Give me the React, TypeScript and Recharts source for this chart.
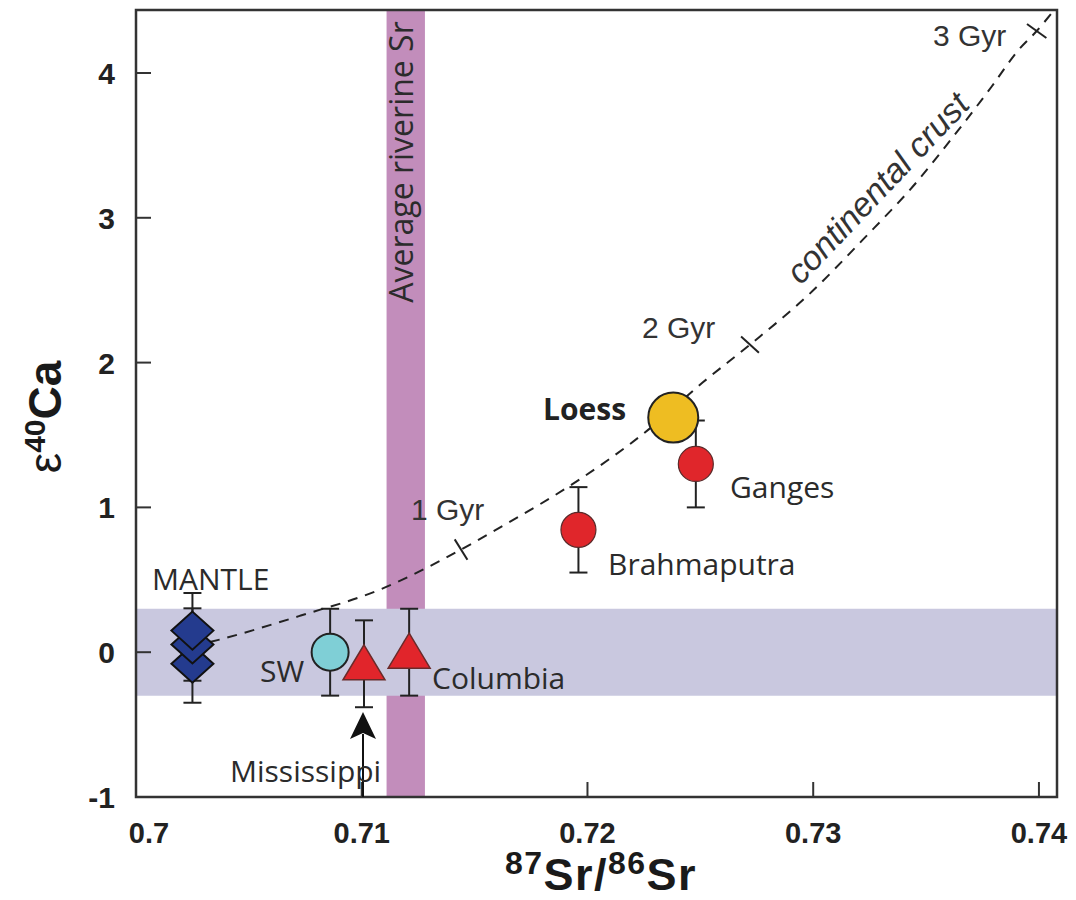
import React from 'react';
import { ComposedChart, Scatter, Line, XAxis, YAxis, ReferenceArea, ErrorBar } from 'recharts';

const X_TICKS = [0.7, 0.71, 0.72, 0.73, 0.74];
const Y_TICKS = [-1, 0, 1, 2, 3, 4];

// mantle samples, listed bottom to top so the upper diamond sits on top
const mantle = [
  { x: 0.7025, y: -0.079, err: 0.27 },
  { x: 0.7025, y: 0.053, err: 0.25 },
  { x: 0.7025, y: 0.149, err: 0.26 },
];
const seawater = [{ x: 0.7086, y: 0.0, err: 0.3 }];
const mississippi = [{ x: 0.7101, y: -0.08, err: 0.3 }];
const columbia = [{ x: 0.7121, y: 0.0, err: 0.3 }];
const brahmaputra = [{ x: 0.7196, y: 0.845, err: 0.295 }];
const ganges = [{ x: 0.7248, y: 1.3, err: 0.3 }];
const loess = [{ x: 0.7238, y: 1.62 }];

// continental crust growth curve
const crustCurve = [
  { x: 0.7025, y: 0.04 },
  { x: 0.7037, y: 0.087 },
  { x: 0.7073, y: 0.253 },
  { x: 0.7108, y: 0.432 },
  { x: 0.7134, y: 0.625 },
  { x: 0.7144, y: 0.709 },
  { x: 0.7165, y: 0.895 },
  { x: 0.7193, y: 1.157 },
  { x: 0.7227, y: 1.537 },
  { x: 0.7251, y: 1.862 },
  { x: 0.7272, y: 2.124 },
  { x: 0.7298, y: 2.469 },
  { x: 0.7322, y: 2.849 },
  { x: 0.7346, y: 3.25 },
  { x: 0.7361, y: 3.54 },
  { x: 0.7379, y: 3.905 },
  { x: 0.7391, y: 4.16 },
  { x: 0.7399, y: 4.29 },
  { x: 0.7406, y: 4.42 },
];
const gyrMarks = [
  { x: 0.7144, y: 0.709, age: 1 },
  { x: 0.7272, y: 2.124, age: 2 },
  { x: 0.7399, y: 4.29, age: 3 },
];

const riverineSr = [0.7111, 0.7128];
const seawaterBand = [-0.3, 0.3];

const W = 1076;
const H = 900;
const AXIS_FONT = '"Liberation Sans", Arial, sans-serif';
const LABEL_FONT = '"Open Sans", "Noto Sans", sans-serif';

const Diamond = ({ cx, cy }: any) => (
  <polygon
    points={`${cx},${cy - 19} ${cx + 21},${cy} ${cx},${cy + 19} ${cx - 21},${cy}`}
    fill="#243b8e"
    stroke="#111"
    strokeWidth={2}
  />
);
const Triangle = ({ cx, cy }: any) => (
  <polygon
    points={`${cx},${cy - 19} ${cx + 21},${cy + 16} ${cx - 21},${cy + 16}`}
    fill="#e1252b"
    stroke="#6a2a2a"
    strokeWidth={1.5}
  />
);
const makeCircle = (r: number, fill: string, stroke: string, sw: number) => ({ cx, cy }: any) => (
  <circle cx={cx} cy={cy} r={r} fill={fill} stroke={stroke} strokeWidth={sw} />
);
const SwDot = makeCircle(18.5, '#7fcfd6', '#222', 2);
const RedDot = makeCircle(17.5, '#e0262b', '#5a2a2a', 1.2);
const LoessDot = makeCircle(25, '#eebd22', '#222', 2);
const Nothing = () => <g />;

const TICK_ANGLE: Record<number, number> = { 1: 58, 2: 42, 3: 36 };
const GyrTick = ({ cx, cy, payload }: any) => {
  const a = (TICK_ANGLE[payload.age] * Math.PI) / 180;
  const h = 12;
  return (
    <line
      x1={cx - Math.cos(a) * h}
      y1={cy - Math.sin(a) * h}
      x2={cx + Math.cos(a) * h}
      y2={cy + Math.sin(a) * h}
      stroke="#222"
      strokeWidth={2}
    />
  );
};

const XTick = ({ x, y, payload }: any) => (
  <text
    x={x + (payload.value === 0.7 ? 13 : 0)}
    y={y}
    textAnchor="middle"
    fontFamily={AXIS_FONT}
    fontWeight="bold"
    fontSize={29}
    fill="#222"
  >
    {payload.value}
  </text>
);
const YTick = ({ x, y, payload }: any) => (
  <text x={x} y={y} dy={11} textAnchor="end" fontFamily={AXIS_FONT} fontWeight="bold" fontSize={30} fill="#222">
    {payload.value}
  </text>
);

const labelStyle = { fontFamily: LABEL_FONT, fontSize: 30, fill: '#2b2b2b' };
const gyrStyle = { fontFamily: AXIS_FONT, fontSize: 30, fill: '#333' };

export default function App() {
  const errBar = (
    <ErrorBar dataKey="err" direction="y" width={9} stroke="#222" strokeWidth={2} />
  );
  return (
    <div style={{ position: 'relative', width: W, height: H }}>
      <style>{'body { margin: 0; overflow: hidden; }'}</style>
      <ComposedChart width={W} height={H} margin={{ top: 10, right: 19, left: 0, bottom: 43 }}>
        <XAxis
          type="number"
          dataKey="x"
          domain={[0.7, 0.7408]}
          ticks={X_TICKS}
          allowDataOverflow
          axisLine={false}
          tickSize={-15}
          tickMargin={61}
          tickLine={{ stroke: '#333', strokeWidth: 2 }}
          tick={<XTick />}
          height={60}
        />
        <YAxis
          type="number"
          dataKey="y"
          domain={[-1, 4.435]}
          ticks={Y_TICKS}
          allowDataOverflow
          axisLine={false}
          tickSize={-15}
          tickMargin={36}
          tickLine={{ stroke: '#333', strokeWidth: 2 }}
          tick={<YTick />}
          width={136}
        />
        <ReferenceArea x1={riverineSr[0]} x2={riverineSr[1]} y1={-1} y2={4.435} fill="#c28dbb" fillOpacity={1} stroke="none" />
        <ReferenceArea x1={0.7} x2={0.7408} y1={seawaterBand[0]} y2={seawaterBand[1]} fill="#c9c8df" fillOpacity={1} stroke="none" />
        <Line
          data={crustCurve}
          dataKey="y"
          type="monotone"
          stroke="#222"
          strokeWidth={2}
          strokeDasharray="10 8"
          dot={false}
          activeDot={false}
          isAnimationActive={false}
        />
        <Scatter data={gyrMarks} dataKey="y" shape={<GyrTick />} isAnimationActive={false} />
        <Scatter data={mantle} dataKey="y" shape={<Diamond />} isAnimationActive={false} />
        <Scatter data={mantle} dataKey="y" shape={<Nothing />} isAnimationActive={false}>
          {errBar}
        </Scatter>
        <Scatter data={seawater} dataKey="y" shape={<SwDot />} isAnimationActive={false}>
          {errBar}
        </Scatter>
        <Scatter data={mississippi} dataKey="y" shape={<Triangle />} isAnimationActive={false}>
          {errBar}
        </Scatter>
        <Scatter data={columbia} dataKey="y" shape={<Triangle />} isAnimationActive={false}>
          {errBar}
        </Scatter>
        <Scatter data={brahmaputra} dataKey="y" shape={<RedDot />} isAnimationActive={false}>
          {errBar}
        </Scatter>
        <Scatter data={loess} dataKey="y" shape={<LoessDot />} isAnimationActive={false} />
        <Scatter data={ganges} dataKey="y" shape={<RedDot />} isAnimationActive={false}>
          {errBar}
        </Scatter>
      </ComposedChart>
      <svg width={W} height={H} style={{ position: 'absolute', left: 0, top: 0, pointerEvents: 'none' }}>
        <rect x={136} y={10} width={921} height={787} fill="none" stroke="#333" strokeWidth={2.5} />

        <text transform="translate(413,162) rotate(-90)" textAnchor="middle" style={{ ...labelStyle, fontSize: 32 }}>
          Average riverine Sr
        </text>

        <text x={152} y={590} style={labelStyle}>MANTLE</text>
        <text x={260} y={682} style={labelStyle}>SW</text>
        <text x={432} y={689} style={labelStyle}>Columbia</text>
        <line x1={363} y1={797} x2={363} y2={734} stroke="#111" strokeWidth={2} />
        <polygon points="363,712 376,739 363,733 350,739" fill="#111" />
        <text x={230} y={782} style={labelStyle}>Mississippi</text>
        <text x={608} y={575} style={labelStyle}>Brahmaputra</text>
        <text x={730} y={498} style={labelStyle}>Ganges</text>
        <text x={543} y={420} style={{ ...labelStyle, fontWeight: 'bold', fill: '#222' }}>Loess</text>

        <text x={411} y={520} style={gyrStyle}>1 Gyr</text>
        <text x={642} y={338} style={gyrStyle}>2 Gyr</text>
        <text x={933} y={46} style={gyrStyle}>3 Gyr</text>
        <text
          transform="translate(886,196) rotate(-46.5)"
          textAnchor="middle"
          style={{ ...gyrStyle, fontSize: 34, fontStyle: 'italic' }}
        >
          continental crust
        </text>

        <text
          x={601}
          y={890}
          textAnchor="middle"
          style={{ fontFamily: AXIS_FONT, fontWeight: 'bold', fontSize: 45, letterSpacing: 1.5, fill: '#1a1a1a' }}
        >
          <tspan fontSize={32} dy={-16}>87</tspan>
          <tspan dy={16}>Sr/</tspan>
          <tspan fontSize={32} dy={-16}>86</tspan>
          <tspan dy={16}>Sr</tspan>
        </text>
        <text
          transform="translate(61,417) rotate(-90)"
          textAnchor="middle"
          style={{ fontFamily: AXIS_FONT, fontWeight: 'bold', fontSize: 46, fill: '#1a1a1a' }}
        >
          <tspan fontWeight="normal">ε</tspan>
          <tspan fontSize={30} dy={-16}>40</tspan>
          <tspan dy={16}>Ca</tspan>
        </text>
      </svg>
    </div>
  );
}
